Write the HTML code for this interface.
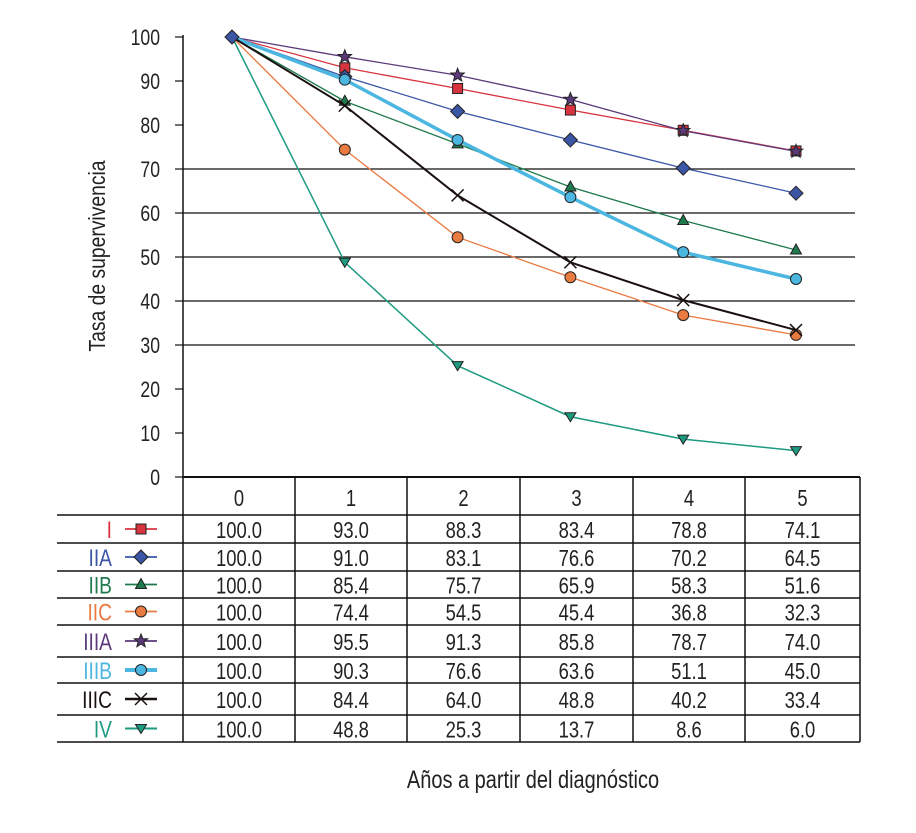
<!DOCTYPE html>
<html><head><meta charset="utf-8"><style>
body{margin:0;background:#fff;}
svg{display:block;font-family:"Liberation Sans",sans-serif;}
</style></head><body>
<svg id="c" width="916" height="833"></svg>
<script>
const categories=["0","1","2","3","4","5"];
const stages=["I","IIA","IIB","IIC","IIIA","IIIB","IIIC","IV"];
const sI=[100,93.0,88.3,83.4,78.8,74.1];
const sIIA=[100,91.0,83.1,76.6,70.2,64.5];
const sIIB=[100,85.4,75.7,65.9,58.3,51.6];
const sIIC=[100,74.4,54.5,45.4,36.8,32.3];
const sIIIA=[100,95.5,91.3,85.8,78.7,74.0];
const sIIIB=[100,90.3,76.6,63.6,51.1,45.0];
const sIIIC=[100,84.4,64.0,48.8,40.2,33.4];
const sIV=[100,48.8,25.3,13.7,8.6,6.0];
const yTicks=[0,10,20,30,40,50,60,70,80,90,100];
const gridVals=[30,40,50,60,70];

const NS="http://www.w3.org/2000/svg";
const svg=document.getElementById('c');
function el(t,a,p){const e=document.createElementNS(NS,t);for(const k in a)e.setAttribute(k,a[k]);(p||svg).appendChild(e);return e;}
function txt(x,y,s,anchor,size,fill,p){const t=el('text',{x:x,y:y,"text-anchor":anchor,"font-size":size,fill:fill,transform:`translate(${x} 0) scale(0.8 1) translate(${-x} 0)`},p);t.textContent=s;return t;}
const colX=[183,295,407,520,633,745,860];
const xS=i=>(colX[i]+colX[i+1])/2;
const pX=i=>232+i*112.8;
const yS=v=>477-v*4.4;
const series=[
 {d:sI,c:"#d8343f",w:1.3,m:"square"},
 {d:sIIA,c:"#3a56a5",w:1.3,m:"diamond"},
 {d:sIIB,c:"#1f7a4d",w:1.3,m:"tri"},
 {d:sIIC,c:"#e97a40",w:1.3,m:"circle"},
 {d:sIIIA,c:"#5c3a7a",w:1.3,m:"star"},
 {d:sIIIB,c:"#4bb6e0",w:3.5,m:"circle"},
 {d:sIIIC,c:"#1a1010",w:2,m:"x"},
 {d:sIV,c:"#1d9a80",w:1.5,m:"tridown"}
];
function marker(type,x,y,c,g){
 const st={stroke:"#222","stroke-width":1};
 let e;
 if(type==="square")e=el('rect',Object.assign({x:x-5,y:y-5,width:10,height:10,fill:c},st),g);
 else if(type==="diamond")e=el('polygon',Object.assign({points:`${x},${y-7} ${x+7},${y} ${x},${y+7} ${x-7},${y}`,fill:c},st),g);
 else if(type==="tri")e=el('polygon',Object.assign({points:`${x},${y-6} ${x+5.5},${y+4} ${x-5.5},${y+4}`,fill:c},st),g);
 else if(type==="tridown")e=el('polygon',Object.assign({points:`${x},${y+5} ${x+5.5},${y-4} ${x-5.5},${y-4}`,fill:c},st),g);
 else if(type==="circle")e=el('circle',Object.assign({cx:x,cy:y,r:5.5,fill:c},st),g);
 else if(type==="star"){let p=[];for(let k=0;k<10;k++){const r=k%2?3:7,a=-Math.PI/2+k*Math.PI/5;p.push((x+r*Math.cos(a)).toFixed(1)+','+(y+r*Math.sin(a)).toFixed(1));}
  e=el('polygon',Object.assign({points:p.join(' '),fill:c},st),g);}
 else {e=el('path',{d:`M${x-6},${y-6}L${x+6},${y+6}M${x+6},${y-6}L${x-6},${y+6}`,stroke:c,"stroke-width":1.5},g);}
 
 
}
gridVals.forEach(v=>{const l=el('line',{x1:183,x2:855,y1:yS(v),y2:yS(v),stroke:"#111","stroke-width":1.2});
});
const ax=el('line',{x1:183,x2:183,y1:35,y2:477,stroke:"#111","stroke-width":1.5});

yTicks.forEach(v=>{el('line',{x1:175,x2:183,y1:yS(v),y2:yS(v),stroke:"#111","stroke-width":1.2});
 const t=txt(160,yS(v)+8,String(v),"end",22,"#222");
 });
const yt=el('text',{x:105,y:256,"text-anchor":"middle","font-size":23,fill:"#222",transform:"rotate(-90 105 256) translate(105 0) scale(0.84 1) translate(-105 0)"});
yt.textContent="Tasa de supervivencia";
series.forEach((s,i)=>{const g=el('g',{});
 el('polyline',{points:s.d.map((v,j)=>pX(j)+','+yS(v)).join(' '),fill:"none",stroke:s.c,"stroke-width":s.w},g);
 s.d.forEach((v,j)=>{if(j>0)marker(s.m,pX(j),yS(v),s.c,g);});});
marker("diamond",pX(0),yS(100),"#3a56a5",svg);
const rowY=[477,515,543,571,598,625,657,683,715,742];
const tb=el('g',{});
el('line',{x1:183,x2:860,y1:477,y2:477,stroke:"#111","stroke-width":2},tb);
for(let r=1;r<rowY.length;r++)el('line',{x1:57,x2:860,y1:rowY[r],y2:rowY[r],stroke:"#111","stroke-width":1.5},tb);
colX.forEach(x=>el('line',{x1:x,x2:x,y1:477,y2:742,stroke:"#111","stroke-width":1.5},tb));
categories.forEach((c,j)=>{const t=txt(xS(j),506,c,"middle",23,"#222",tb);
 });
series.forEach((s,i)=>{const cy=(rowY[i+1]+rowY[i+2])/2;
 const lab=txt(112,cy+9,stages[i],"end",24,s.c,tb);
 
 el('line',{x1:125,x2:157,y1:cy,y2:cy,stroke:s.c,"stroke-width":s.w+0.5},tb);
 marker(s.m,141,cy,s.c,tb);
 s.d.forEach((v,j)=>{const t=txt(xS(j),cy+9,v.toFixed(1),"middle",23,"#222",tb);
  });});
const xt=txt(533,788,"Años a partir del diagnóstico","middle",25,"#222");

</script>
</body></html>
